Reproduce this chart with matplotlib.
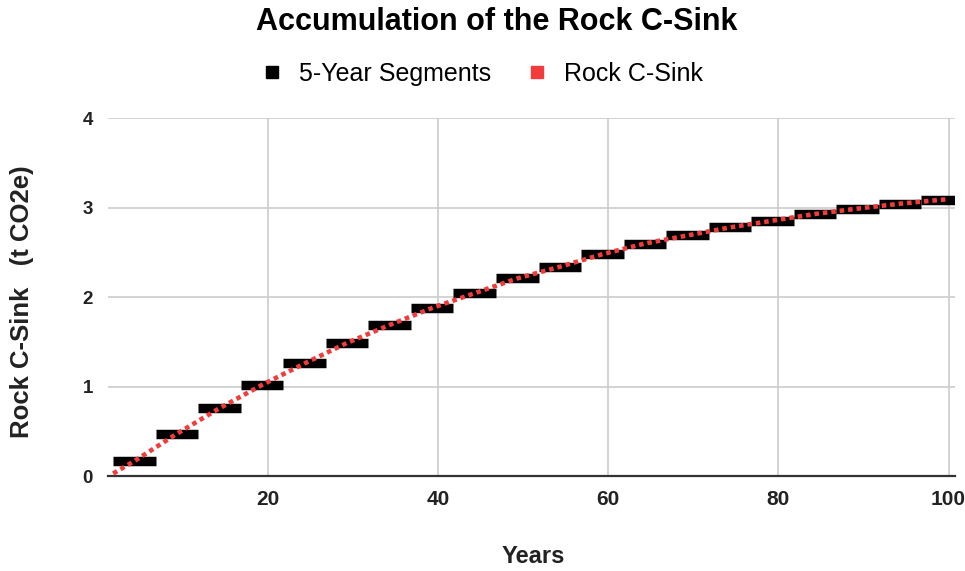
import matplotlib
matplotlib.use("Agg")
import matplotlib.pyplot as plt
from matplotlib.lines import Line2D

plt.rcParams["font.family"] = ["Liberation Sans", "DejaVu Sans"]

# 5-year segments: start year and level (t CO2e)
seg_start = [1.8, 6.8, 11.8, 16.8, 21.8, 26.8, 31.8, 36.8, 41.8, 46.8,
             51.8, 56.8, 61.8, 66.8, 71.8, 76.8, 81.8, 86.8, 91.8, 96.8]
seg_level = [0.17, 0.475, 0.76, 1.02, 1.26, 1.49, 1.69, 1.88, 2.045, 2.21,
             2.34, 2.48, 2.60, 2.69, 2.78, 2.855, 2.93, 2.99, 3.045, 3.09]
seg_len = 5

# continuous rock C-sink curve
sink_years = [1.8, 4.3, 9.3, 14.3, 19.3, 24.3, 29.3, 34.3, 39.3, 44.3, 49.3,
              54.3, 59.3, 64.3, 69.3, 74.3, 79.3, 84.3, 89.3, 94.3, 99.3, 100]
sink_values = [0.03, 0.17, 0.475, 0.76, 1.02, 1.26, 1.49, 1.69, 1.88, 2.045, 2.21,
               2.34, 2.48, 2.60, 2.69, 2.78, 2.855, 2.93, 2.99, 3.045, 3.09, 3.095]

x_ticks = [20, 40, 60, 80, 100]
y_ticks = [0, 1, 2, 3, 4]

RED = "#f23b3b"

fig = plt.figure(figsize=(9.65, 5.71), dpi=100)
ax = fig.add_axes([0.112, 0.166, 0.878, 0.627])

for start, level in zip(seg_start, seg_level):
    ax.plot([start, start + seg_len], [level, level], color="black",
            linewidth=6.8, solid_capstyle="butt", zorder=3)

ax.plot(sink_years, sink_values, color=RED, linewidth=3.3,
        linestyle=(0, (1, 0.85)), dash_capstyle="butt", zorder=4)

ax.set_xlim(1.2, 100.8)
ax.set_ylim(0, 4)
ax.set_xticks(x_ticks)
ax.set_yticks(y_ticks)
ax.grid(color="#cccccc", linewidth=1.2)
ax.set_axisbelow(True)
for side in ["left", "right", "top"]:
    ax.spines[side].set_visible(False)
ax.spines["bottom"].set_color("#333333")
ax.spines["bottom"].set_linewidth(1.6)
ax.tick_params(length=0)
ax.tick_params(axis="x", labelsize=15, pad=10)
ax.tick_params(axis="y", labelsize=13.5, pad=11)
for label in ax.get_xticklabels() + ax.get_yticklabels():
    label.set_fontweight("bold")
    label.set_color("#222222")

fig.text(0.553, 0.026, "Years", fontsize=17, fontweight="bold",
         ha="center", va="center", color="#222222")
fig.text(0.023, 0.471, "Rock C-Sink   (t CO2e)", fontsize=18.5, fontweight="bold",
         ha="center", va="center", rotation=90, color="#222222")

fig.text(0.515, 0.961, "Accumulation of the Rock C-Sink", fontsize=22,
         fontweight="bold", ha="center", va="center")

handles = [
    Line2D([], [], linestyle="none", marker="s", markersize=8, color="black"),
    Line2D([], [], linestyle="none", marker="s", markersize=8, color=RED),
]
fig.legend(handles, ["5-Year Segments", "Rock C-Sink"], loc="center",
           bbox_to_anchor=(0.50, 0.87), ncol=2, frameon=False, fontsize=18,
           handlelength=0.8, handletextpad=0.7, columnspacing=1.4)

fig.savefig("out.png", dpi=100)
